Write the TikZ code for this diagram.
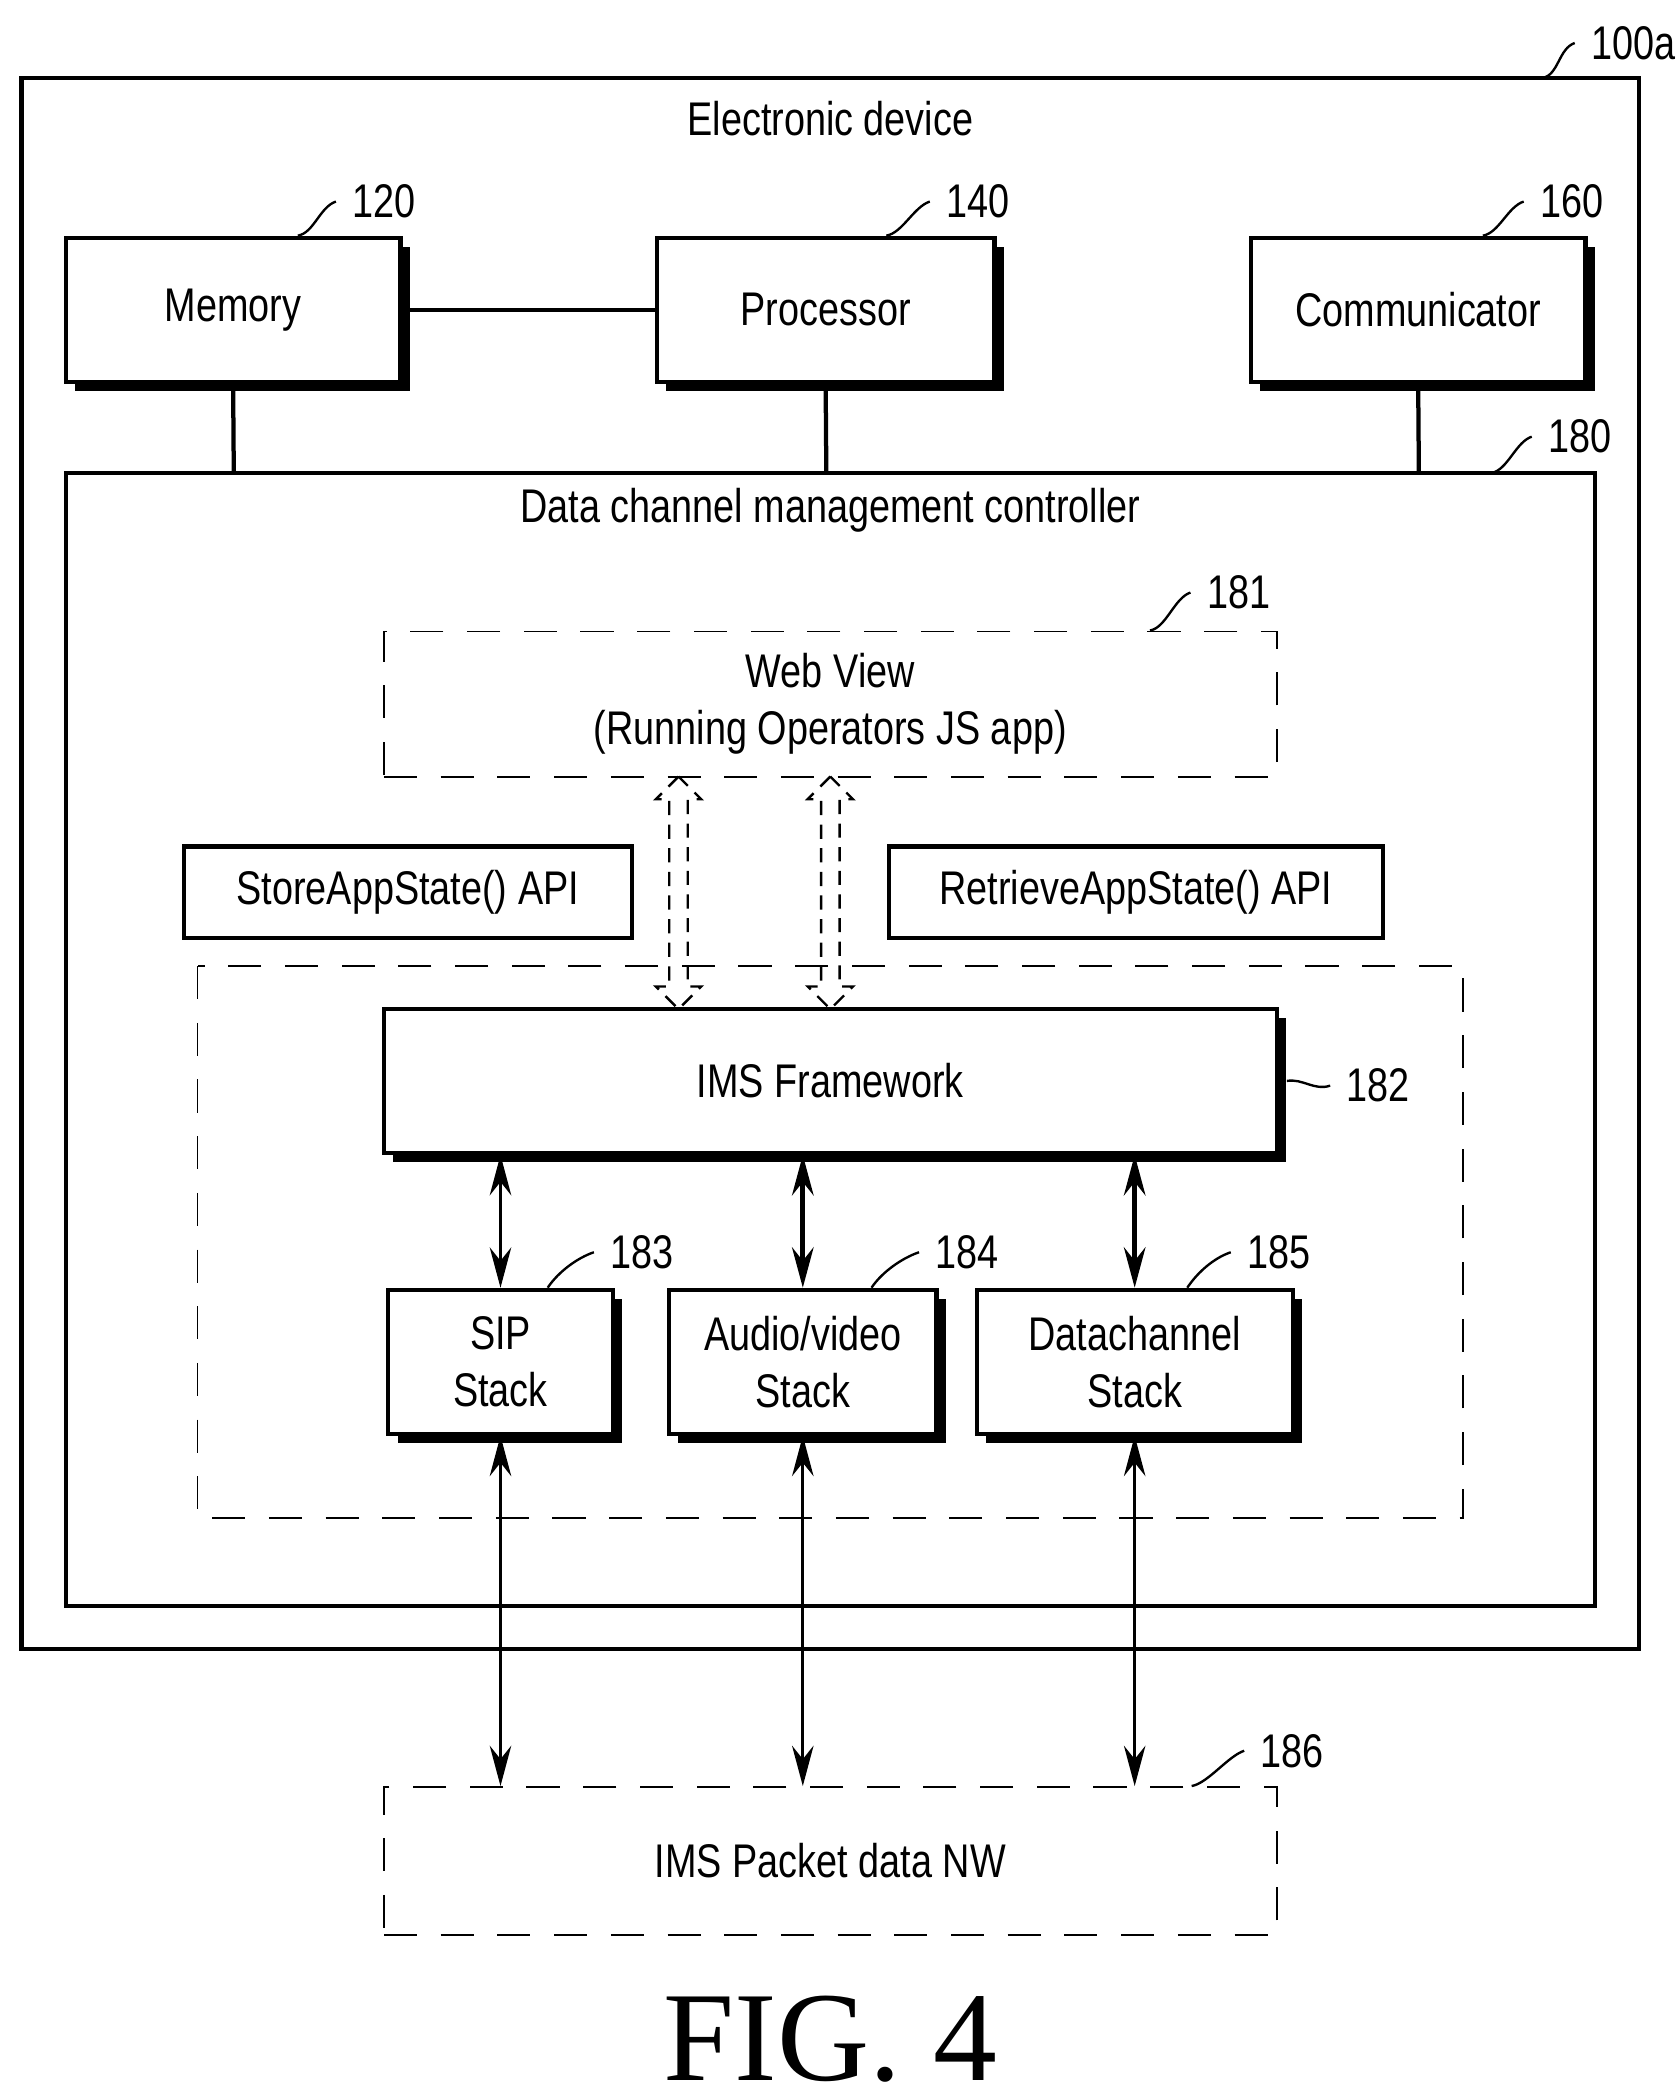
\documentclass[tikz,border=0pt]{standalone}
\usepackage{fontspec}
\setmainfont{Liberation Sans}[FakeStretch=0.8]
\usetikzlibrary{positioning,arrows.meta,shapes.arrows,shadows,calc}

\begin{document}
\begin{tikzpicture}[
    x=0.01cm, y=-0.01cm,
    font=\fontsize{10}{12}\selectfont,
    >={Stealth[length=0.3cm,width=0.16cm,inset=0.1cm]},
    box/.style={rectangle, draw, line width=0.9pt, fill=white, align=center,
        drop shadow={shadow xshift=0.07cm, shadow yshift=-0.07cm, fill=black, opacity=1}},
    frame/.style={rectangle, draw, line width=0.9pt},
    dbox/.style={rectangle, draw, dash pattern=on 7pt off 5pt, line width=0.4pt, align=center},
    api/.style={rectangle, draw, line width=0.9pt, minimum height=0.68cm},
    hollow/.style={double arrow, draw, densely dashed, line width=0.5pt, rotate=90,
        minimum height=1.73cm, minimum width=0.2cm, double arrow head extend=0.1cm, inner sep=0.06cm},
    leader/.style={line width=0.5pt}
]
\useasboundingbox (0,0) rectangle (1250,1557);

% Outer device
\draw[frame] (16,58) rectangle (1220,1227);
\node (dev) at (618,88) {Electronic device};
\node[anchor=west] (l100) at (1172,32) {100a};
\draw[leader] (1148,58) .. controls +(12,-2) and +(-12,4) .. (l100.west);

% Top row
\node[box, minimum width=2.49cm, minimum height=1.07cm] (mem) at (173.5,230.5) {Memory};
\node[box, minimum width=2.51cm, minimum height=1.07cm] (proc) at (614.5,230.5) {Processor};
\node[box, minimum width=2.49cm, minimum height=1.07cm] (comm) at (1055.5,230.5) {Communicator};
\draw[line width=0.9pt] (mem.east) -- (proc.west);

\node[anchor=west] (l120) at (250,150) {120};
\node[anchor=west] (l140) at (692,150) {140};
\node[anchor=west] (l160) at (1134,150) {160};
\draw[leader] ($(mem.north east)+(-78,0)$) .. controls +(12,-2) and +(-12,4) .. (l120.west);
\draw[leader] ($(proc.north east)+(-82,0)$) .. controls +(12,-2) and +(-12,4) .. (l140.west);
\draw[leader] ($(comm.north east)+(-78,0)$) .. controls +(12,-2) and +(-12,4) .. (l160.west);

% Controller
\draw[frame] (49,352) rectangle (1187,1195);
\coordinate (c1) at (174,352);
\coordinate (c2) at (615,352);
\coordinate (c3) at (1056,352);
\draw[line width=0.9pt] (mem.south) -- (c1);
\draw[line width=0.9pt] (proc.south) -- (c2);
\draw[line width=0.9pt] (comm.south) -- (c3);
\node (dcm) at (618,380) {Data channel management controller};
\node[anchor=west] (l180) at (1140,325) {180};
\draw[leader] (1110,352) .. controls +(12,-2) and +(-12,4) .. (l180.west);

% Web view
\node[dbox, minimum width=6.64cm, minimum height=1.08cm] (web) at (618,524)
    {Web View\\(Running Operators JS app)};
\node[anchor=west] (l181) at (886,441) {181};
\draw[leader] ($(web.north east)+(-95,0)$) .. controls +(12,-2) and +(-12,4) .. (l181.west);

\node[api, minimum width=3.33cm] (store) at (303.5,664) {StoreAppState() API};
\node[api, minimum width=3.67cm] (retr) at (845.5,664) {RetrieveAppState() API};

% Inner group
\draw[dash pattern=on 7pt off 5pt, line width=0.4pt] (147,719) rectangle (1089,1130);
\node[box, minimum width=6.64cm, minimum height=1.07cm] (ims) at (618,804.5) {IMS Framework};
\node[anchor=west] (l182) at (990,808) {182};
\draw[leader] ($(ims.east)+(6,0)$) .. controls +(12,-2) and +(-12,4) .. (l182.west);

\node[hollow] (h1) at (505,664.5) {};
\node[hollow] (h2) at (618,664.5) {};

% Stacks
\node[box, minimum width=1.67cm, minimum height=1.07cm] (sip) at (372.5,1013.5) {SIP\\Stack};
\node[box, minimum width=1.99cm, minimum height=1.07cm] (av) at (597.5,1013.5) {Audio/video\\Stack};
\node[box, minimum width=2.35cm, minimum height=1.07cm] (dc) at (844.5,1013.5) {Datachannel\\Stack};
\node[anchor=west] (l183) at (442,932) {183};
\node[anchor=west] (l184) at (684,932) {184};
\node[anchor=west] (l185) at (916,932) {185};
\draw[leader] ($(sip.north east)+(-50,0)$) .. controls +(8,-12) and +(-12,4) .. (l183.west);
\draw[leader] ($(av.north east)+(-50,0)$) .. controls +(8,-12) and +(-12,4) .. (l184.west);
\draw[leader] ($(dc.north east)+(-80,0)$) .. controls +(8,-12) and +(-12,4) .. (l185.west);

\draw[<->, line width=0.6pt] (ims.south -| sip) -- (sip);
\draw[<->, line width=1.1pt] (ims.south -| av) -- (av);
\draw[<->, line width=1.1pt] (ims.south -| dc) -- (dc);

% Network
\node[dbox, minimum width=6.64cm, minimum height=1.1cm] (nw) at (618,1385) {IMS Packet data NW};
\node[anchor=west] (l186) at (926,1303) {186};
\draw[leader] ($(nw.north east)+(-64,0)$) .. controls +(12,-2) and +(-12,4) .. (l186.west);

\draw[<->, line width=0.6pt] (sip.south) -- (nw.north -| sip);
\draw[<->, line width=0.6pt] (av.south) -- (nw.north -| av);
\draw[<->, line width=0.6pt] (dc.south) -- (nw.north -| dc);

\node[font=\fontspec{Liberation Serif}\fontsize{27}{30}\selectfont] (fig) at (618,1518) {FIG. 4};
\end{tikzpicture}
\end{document}
